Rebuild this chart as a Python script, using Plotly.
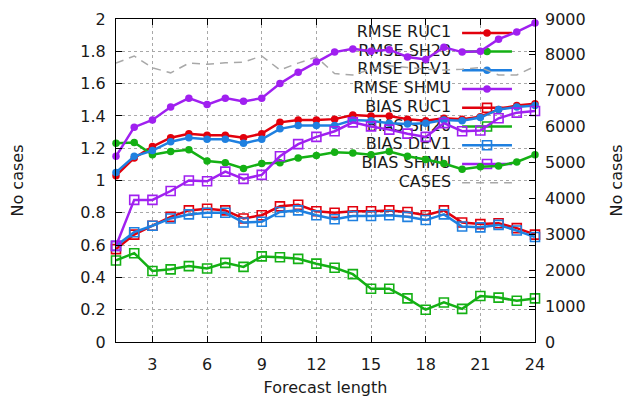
import plotly.graph_objects as go

# Forecast lengths (hours)
hours = [1, 2, 3, 4, 5, 6, 7, 8, 9, 10, 11, 12,
         13, 14, 15, 16, 17, 18, 19, 20, 21, 22, 23, 24]

# Scores per model
rmse_ruc1 = [1.03, 1.14, 1.21, 1.265, 1.29, 1.28, 1.28, 1.265, 1.29, 1.36, 1.375, 1.375,
             1.38, 1.405, 1.40, 1.40, 1.38, 1.37, 1.385, 1.38, 1.395, 1.44, 1.465, 1.475]
rmse_sh20 = [1.23, 1.235, 1.16, 1.18, 1.19, 1.12, 1.11, 1.075, 1.105, 1.11, 1.14, 1.155,
             1.175, 1.17, 1.16, 1.18, 1.15, 1.13, 1.105, 1.07, 1.085, 1.09, 1.115, 1.16]
rmse_dev1 = [1.05, 1.15, 1.185, 1.24, 1.265, 1.255, 1.255, 1.23, 1.255, 1.32, 1.34, 1.34,
             1.34, 1.375, 1.37, 1.355, 1.35, 1.355, 1.375, 1.37, 1.39, 1.44, 1.455, 1.465]
rmse_shmu = [1.15, 1.33, 1.375, 1.455, 1.51, 1.47, 1.51, 1.49, 1.51, 1.60, 1.67, 1.735,
             1.795, 1.815, 1.80, 1.81, 1.765, 1.75, 1.825, 1.795, 1.80, 1.875, 1.92, 1.975]
bias_ruc1 = [0.575, 0.665, 0.72, 0.775, 0.815, 0.825, 0.815, 0.765, 0.785, 0.84, 0.85, 0.81,
             0.80, 0.81, 0.81, 0.815, 0.805, 0.785, 0.815, 0.74, 0.73, 0.735, 0.705, 0.665]
bias_sh20 = [0.505, 0.55, 0.44, 0.45, 0.47, 0.455, 0.49, 0.465, 0.53, 0.525, 0.515, 0.485,
             0.46, 0.42, 0.33, 0.33, 0.27, 0.20, 0.245, 0.205, 0.285, 0.275, 0.255, 0.27]
bias_dev1 = [0.595, 0.68, 0.72, 0.765, 0.79, 0.80, 0.80, 0.74, 0.745, 0.805, 0.815, 0.785,
             0.76, 0.78, 0.78, 0.785, 0.775, 0.755, 0.79, 0.715, 0.71, 0.725, 0.69, 0.65]
bias_shmu = [0.595, 0.88, 0.88, 0.935, 1.0, 0.995, 1.055, 1.01, 1.035, 1.15, 1.225, 1.27,
             1.305, 1.36, 1.335, 1.315, 1.29, 1.27, 1.355, 1.305, 1.31, 1.385, 1.42, 1.43]

# Number of verified cases (right axis)
cases = [7770, 7970, 7640, 7500, 7770, 7740, 7780, 7800, 7970, 7580, 7770, 7940,
         7480, 7440, 7600, 7700, 7650, 7600, 7580, 7600, 7650, 7440, 7440, 7680]

x_ticks = [3, 6, 9, 12, 15, 18, 21, 24]
y_ticks = [0, 0.2, 0.4, 0.6, 0.8, 1, 1.2, 1.4, 1.6, 1.8, 2]
y2_ticks = [0, 1000, 2000, 3000, 4000, 5000, 6000, 7000, 8000, 9000]

RED = "#e2000c"
GREEN = "#14b014"
BLUE = "#1f80e0"
PURPLE = "#a020f0"
GRAY = "#a8a8a8"
TEXT = "#1a1a1a"
FONT = "DejaVu Sans"

X_RANGE = [1, 24]
Y_RANGE = [0, 2]

series = [
    ("RMSE RUC1", rmse_ruc1, RED, "circle"),
    ("RMSE SH20", rmse_sh20, GREEN, "circle"),
    ("RMSE DEV1", rmse_dev1, BLUE, "circle"),
    ("RMSE SHMU", rmse_shmu, PURPLE, "circle"),
    ("BIAS RUC1", bias_ruc1, RED, "square-open"),
    ("BIAS SH20", bias_sh20, GREEN, "square-open"),
    ("BIAS DEV1", bias_dev1, BLUE, "square-open"),
    ("BIAS SHMU", bias_shmu, PURPLE, "square-open"),
]


def marker_style(color, symbol):
    if symbol == "circle":
        return dict(symbol="circle", size=7.5, color=color)
    return dict(symbol="square-open", size=9, color=color, line=dict(width=1.6, color=color))


def fx(f):
    return X_RANGE[0] + f * (X_RANGE[1] - X_RANGE[0])


def fy(f):
    return Y_RANGE[0] + f * (Y_RANGE[1] - Y_RANGE[0])


fig = go.Figure()

# Key (drawn first so the curves pass over it), positioned as fractions of the plot area
key_text_x = 0.80
key_line_x = (0.826, 0.945)
key_top = 0.957
key_step = 0.058
key_labels = [s[0] for s in series] + ["CASES"]
for i, label in enumerate(key_labels):
    yk = fy(key_top - i * key_step)
    fig.add_trace(go.Scatter(
        x=[fx(key_text_x)], y=[yk], mode="text", text=[label],
        textposition="middle left", textfont=dict(family=FONT, size=16, color=TEXT),
        showlegend=False, hoverinfo="skip"))
    if i < len(series):
        _, _, color, symbol = series[i]
        fig.add_trace(go.Scatter(
            x=[fx(key_line_x[0]), fx(key_line_x[1])], y=[yk, yk], mode="lines",
            line=dict(color=color, width=2.5), showlegend=False, hoverinfo="skip"))
        fig.add_trace(go.Scatter(
            x=[fx(sum(key_line_x) / 2)], y=[yk], mode="markers",
            marker=marker_style(color, symbol), showlegend=False, hoverinfo="skip"))
    else:
        fig.add_trace(go.Scatter(
            x=[fx(key_line_x[0]), fx(key_line_x[1])], y=[yk, yk], mode="lines",
            line=dict(color=GRAY, width=1.5, dash="8px,6px"), showlegend=False, hoverinfo="skip"))

# Score curves on the left axis
for name, values, color, symbol in series:
    fig.add_trace(go.Scatter(
        x=hours, y=values, name=name, mode="lines+markers",
        line=dict(color=color, width=2.5), marker=marker_style(color, symbol),
        cliponaxis=False, showlegend=False))

# Case counts on the right axis
fig.add_trace(go.Scatter(
    x=hours, y=cases, name="CASES", mode="lines", yaxis="y2",
    line=dict(color=GRAY, width=1.5, dash="8px,6px"), showlegend=False))

axis_font = dict(family=FONT, size=16, color=TEXT)

fig.update_layout(
    width=626, height=397,
    margin=dict(l=116, r=91, t=19, b=55, autoexpand=False),
    paper_bgcolor="white", plot_bgcolor="white",
    font=axis_font,
    xaxis=dict(
        range=X_RANGE, tickvals=x_ticks, ticks="inside", ticklen=6, tickcolor="black",
        showline=True, linecolor="black", linewidth=1, mirror="ticks",
        showgrid=True, gridcolor=GRAY, griddash="dot", gridwidth=1,
        zeroline=False, tickfont=axis_font, ticklabelstandoff=8, automargin=False,
        title=dict(text="Forecast length", font=axis_font, standoff=16),
    ),
    yaxis=dict(
        range=Y_RANGE, tickvals=y_ticks, ticks="inside", ticklen=6, tickcolor="black",
        showline=True, linecolor="black", linewidth=1, mirror="ticks",
        showgrid=True, gridcolor=GRAY, griddash="dot", gridwidth=1,
        zeroline=False, tickfont=axis_font, ticklabelstandoff=6, automargin=False,
        title=dict(text="No cases", font=axis_font, standoff=52),
    ),
    yaxis2=dict(
        range=[0, 9000], tickvals=y2_ticks, overlaying="y", side="right",
        ticks="inside", ticklen=6, tickcolor="black", showgrid=False, zeroline=False,
        tickfont=axis_font, ticklabelstandoff=9, automargin=False,
        title=dict(text="No cases", font=axis_font, standoff=30),
    ),
)

fig.write_html("out.html")
